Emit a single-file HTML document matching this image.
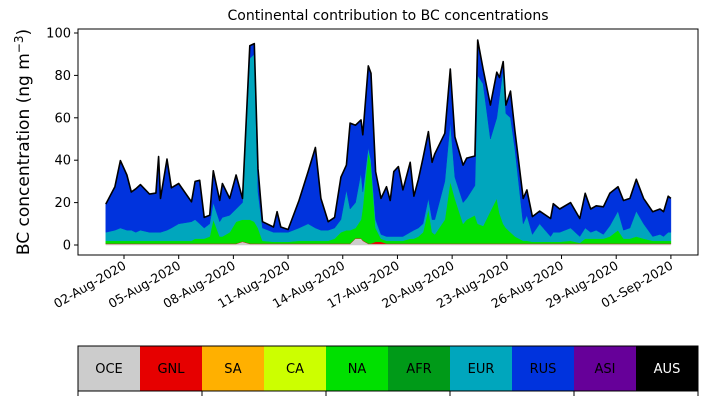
<!DOCTYPE html>
<html><head><meta charset="utf-8"><style>
html,body{margin:0;padding:0;background:#fff;}
svg{display:block;font-family:"DejaVu Sans","Liberation Sans",sans-serif;}
</style></head><body>
<svg id="chart" width="707" height="402" viewBox="0 0 707 402">
<text x="388" y="20" text-anchor="middle" font-size="14">Continental contribution to BC concentrations</text>
<text transform="translate(29,142) rotate(-90)" text-anchor="middle" font-size="17">BC concentration (ng m<tspan dy="-6" font-size="12">−3</tspan><tspan dy="6">)</tspan></text>
<g id="areas"></g>
<g id="yaxis"></g>
<g id="xaxis"></g>
<rect x="78" y="29" width="620" height="226" fill="none" stroke="#000" stroke-width="1"/>
<g id="cbar"></g>
</svg>
<script>
const times=[1.0,1.5,1.8,2.16,2.4,2.65,2.9,3.4,3.75,3.9,
4.0,4.36,4.6,5.0,5.7,5.9,6.15,6.4,6.7,6.9,
7.25,7.4,7.8,8.15,8.5,8.9,9.15,9.35,9.6,10.2,
10.4,10.6,11.0,11.6,12.1,12.5,12.8,13.2,13.55,13.9,
14.2,14.4,14.7,15.0,15.1,15.4,15.55,15.8,16.1,16.4,
16.6,16.8,17.05,17.3,17.7,17.9,18.15,18.4,18.7,18.9,
19.05,19.6,19.9,20.15,20.6,20.8,21.25,21.4,21.7,22.1,
22.45,22.6,22.8,22.95,23.2,23.45,23.9,24.1,24.4,24.8,
25.4,25.55,25.9,26.5,27.0,27.3,27.6,27.9,28.3,28.65,
29.1,29.4,29.75,30.1,30.5,31.0,31.4,31.6,31.85,32.0];
const oce=[0.5,0.5,0.5,0.5,0.5,0.5,0.5,0.5,0.5,0.5,
0.5,0.5,0.5,0.5,0.5,0.5,0.5,0.5,0.5,0.5,
0.5,0.5,0.5,0.5,1.5,0.5,0.5,0.5,0.5,0.5,
0.5,0.5,0.5,0.5,0.5,0.5,0.5,0.5,0.5,0.5,
0.5,0.5,3,3,2,0.5,0.5,0.5,0.5,0.5,
0.5,0.5,0.5,0.5,0.5,0.5,0.5,0.5,0.5,0.5,
0.5,0.5,0.5,0.5,0.5,0.5,0.5,0.5,0.5,0.5,
0.5,0.5,0.5,0.5,0.5,0.5,0.5,0.5,0.5,0.5,
0.5,0.5,0.5,0.5,0.5,0.5,0.5,0.5,0.5,0.5,
0.5,0.5,0.5,0.5,0.5,0.5,0.5,0.5,0.5,0.5];
const gnl=[0.2,0.2,0.2,0.2,0.2,0.2,0.2,0.2,0.2,0.2,
0.2,0.2,0.2,0.2,0.2,0.2,0.2,0.2,0.2,0.2,
0.2,0.2,0.2,0.2,0.2,0.2,0.2,0.2,0.2,0.2,
0.2,0.2,0.2,0.2,0.2,0.2,0.2,0.2,0.2,0.2,
0.2,0.2,0.2,0.2,0.2,0.2,0.2,1,1,0.2,
0.2,0.2,0.2,0.2,0.2,0.2,0.2,0.2,0.2,0.2,
0.2,0.2,0.2,0.2,0.2,0.2,0.2,0.2,0.2,0.2,
0.2,0.2,0.2,0.2,0.2,0.2,0.2,0.2,0.2,0.2,
0.2,0.2,0.2,0.2,0.2,0.2,0.2,0.2,0.2,0.2,
0.2,0.2,0.2,0.2,0.2,0.2,0.2,0.2,0.2,0.2];
const na=[1.3,1.3,1.3,1.3,1.3,1.3,1.3,1.3,1.3,1.3,
1.3,1.3,1.3,1.3,1.3,2.3,2.3,2.3,3.3,11.3,
3.3,3.3,5.3,10.3,10.3,11.3,10.3,7.3,1.3,0.8,
0.8,0.8,0.8,1.3,1.3,1.3,1.3,1.3,2.3,5.3,
6.3,6.3,4.8,8.8,15.8,43.3,37.3,6.5,1.5,1.3,
1.3,1.3,1.3,1.3,2.3,2.3,3.3,5.3,16.3,5.3,
4.3,11.3,29.3,21.3,9.3,11.3,13.3,9.3,8.3,15.3,
21.3,14.3,9.3,7.3,5.3,3.3,1.3,1.3,0.8,0.8,
0.8,0.8,0.8,1.3,0.3,2.3,2.3,2.3,2.3,3.3,
6.3,2.3,2.3,3.3,2.3,1.3,1.3,1.3,1.3,1.3];
const eur=[4,5,6,5,5,4,5,4,4,4,
4,5,6,8,9,9,7,5,6,8,
7,9,8,6,8,76,79,17,6,4.5,
4.5,4.5,4.5,6,8,6,5,5,5,6,
19,10,12,22,7,2,2,4,2,2,
2,2,2,2,3,4,4,4,5,6,
7,18,28,10,10,10,14,70,67,34,
38,55,73,54,54,41,8,12,3.5,8.5,
2.5,4.5,4.5,6,3,5,3,4,2,5,
9,4,5,12,7,2,3,2,4,4];
const rus=[13.3,20.5,31.8,26,18,20.5,21.5,18,18.5,35.7,
16,33.5,19,19,9.4,18,20.5,5,4,15,
10,16,8,16,2,6,5,11,3,2.5,
9.7,2.5,1.3,13,24.6,38,15,4,5,20,
11.7,40.5,36.5,25,27,38.5,41,22.6,17,23.5,
17,30.6,33,22,33,16,23,31,31.5,27,
31,22.7,25,19,17.7,19,14,16.7,7,16,
21.5,9,3.5,4,12.6,8.5,12,12,8.4,6,
8.5,13.5,11,12,8.5,16.4,11,11.5,13,15.4,
11.5,14,14,15,12,11.7,12,11.7,17,16];
const yTicks=[0,20,40,60,80,100];
const xTickDays=[2,5,8,11,14,17,20,23,26,29,32];
const xTickLabels=["02-Aug-2020","05-Aug-2020","08-Aug-2020","11-Aug-2020","14-Aug-2020","17-Aug-2020","20-Aug-2020","23-Aug-2020","26-Aug-2020","29-Aug-2020","01-Sep-2020"];
const regions=["OCE","GNL","SA","CA","NA","AFR","EUR","RUS","ASI","AUS"];
const regionColors=["#cccccc","#e60000","#ffb000","#ccff00","#00e000","#009a18","#00a6bd","#0033dd","#660099","#000000"];

const NS="http://www.w3.org/2000/svg";
function X(d){return 124+(d-2)*18.23;}
function Y(v){return 245-v*2.12;}
function mk(tag,attrs,parent){const e=document.createElementNS(NS,tag);for(const k in attrs)e.setAttribute(k,attrs[k]);parent.appendChild(e);return e;}

const areas=document.getElementById('areas');
const series=[["oce",oce,"#cccccc"],["gnl",gnl,"#e60000"],["na",na,"#00e000"],["eur",eur,"#00a6bd"],["rus",rus,"#0033dd"]];
let base=times.map(()=>0);
series.forEach(s=>{
  const top=base.map((b,i)=>b+s[1][i]);
  let d="M"+times.map((t,i)=>X(t).toFixed(1)+","+Y(top[i]).toFixed(1)).join("L");
  for(let i=times.length-1;i>=0;i--)d+="L"+X(times[i]).toFixed(1)+","+Y(base[i]).toFixed(1);
  d+="Z";
  const p=mk('path',{d:d,fill:s[2],stroke:s[2],'stroke-width':0.5},areas);
  
  
  base=top;
});
const tl=mk('path',{d:"M"+times.map((t,i)=>X(t).toFixed(1)+","+Y(base[i]).toFixed(1)).join("L"),fill:"none",stroke:"#000","stroke-width":1.6,"stroke-linejoin":"round"},areas);



const ya=document.getElementById('yaxis');
yTicks.forEach(v=>{
  const l=mk('line',{x1:74,x2:78,y1:Y(v),y2:Y(v),stroke:"#000"},ya);
  
  
  const t=mk('text',{x:71,y:Y(v)+4.5,'text-anchor':'end','font-size':13},ya);
  t.textContent=v;
  
  
});
const xa=document.getElementById('xaxis');
xTickDays.forEach((d,i)=>{
  const l=mk('line',{x1:X(d),x2:X(d),y1:255,y2:259,stroke:"#000"},xa);
  
  
  const t=mk('text',{transform:"translate("+(X(d)+3)+",268) rotate(-30)",'text-anchor':'end','font-size':12.5},xa);
  t.textContent=xTickLabels[i];
  
  
});
const cb=document.getElementById('cbar');
const w=62;
regions.forEach((r,i)=>{
  const rc=mk('rect',{x:78+i*w,y:346,width:w,height:45,fill:regionColors[i]},cb);
  
  
  const t=mk('text',{x:78+i*w+w/2,y:373,'text-anchor':'middle','font-size':13,fill:r==="AUS"?"#fff":"#000"},cb);
  t.textContent=r;
  
  
});
const fr=mk('rect',{x:78,y:346,width:620,height:45,fill:"none",stroke:"#000"},cb);


for(let k=0;k<=10;k+=2){
  const l=mk('line',{x1:78+k*w,x2:78+k*w,y1:391,y2:396,stroke:"#000"},cb);
  
  
}
</script>
</body></html>
